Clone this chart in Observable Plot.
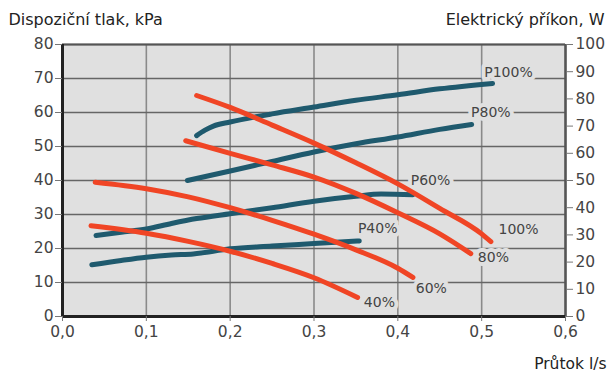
<!DOCTYPE html>
<html><head><meta charset="utf-8">
<script src="https://cdn.jsdelivr.net/npm/d3@7"></script>
<script src="https://cdn.jsdelivr.net/npm/@observablehq/plot@0.6"></script>
<style>body{margin:0;background:#fff;} #chart svg{display:block;}</style>
</head><body><div id="chart"></div>
<script>
// Axis ticks
const flowTicks = [0, 0.1, 0.2, 0.3, 0.4, 0.5, 0.6];
const pressureTicks = [0, 10, 20, 30, 40, 50, 60, 70, 80];
const powerTicks = [0, 10, 20, 30, 40, 50, 60, 70, 80, 90, 100];

// Pressure curves (flow l/s, kPa)
const pressure100 = [[0.16,65],[0.2,61.5],[0.25,56.3],[0.3,51],[0.35,45.2],[0.4,39],[0.45,31.8],[0.5,24.3],[0.511,22]];
const pressure80 = [[0.147,51.7],[0.2,48],[0.25,44.6],[0.3,41],[0.35,36.2],[0.4,30.5],[0.45,24.3],[0.487,18.5]];
const pressure60 = [[0.039,39.5],[0.1,37.6],[0.15,35.2],[0.2,32],[0.25,28.3],[0.3,24.2],[0.35,19.6],[0.4,14.2],[0.418,11.5]];
const pressure40 = [[0.034,26.7],[0.1,24.5],[0.15,22.1],[0.2,19.2],[0.25,15.6],[0.3,11.4],[0.352,5.6]];

// Power curves (flow l/s, W)
const power100 = [[0.16,66.5],[0.17,68.5],[0.18,70],[0.2,71.5],[0.25,74.5],[0.3,77],[0.35,79.5],[0.4,81.5],[0.45,83.7],[0.513,85.7]];
const power80 = [[0.149,50],[0.2,53.5],[0.25,57],[0.3,60.5],[0.35,63.5],[0.4,66],[0.45,68.8],[0.488,70.6]];
const power60 = [[0.04,29.8],[0.07,31],[0.1,32.2],[0.13,34.2],[0.16,36],[0.2,37.8],[0.25,40],[0.3,42.4],[0.35,44.2],[0.38,45],[0.418,44.8]];
const power40 = [[0.035,19],[0.07,20.6],[0.1,21.8],[0.13,22.6],[0.156,23],[0.2,24.9],[0.25,25.9],[0.3,26.8],[0.354,27.8]];

// Curve labels
const pressureLabels = ["100%", "80%", "60%", "40%"];
const pressureLabelPos = [[0.544,25.6],[0.514,17.4],[0.44,8.3],[0.378,4.1]];
const powerLabels = ["P100%", "P80%", "P60%", "P40%"];
const powerLabelPos = [[0.532,89.7],[0.511,75],[0.439,50],[0.376,32.3]];

const W2K = 80 / 100; // right axis (W) mapped onto left axis (kPa)

const pressureSets = [pressure100, pressure80, pressure60, pressure40];
const powerSets = [power100, power80, power60, power40];
const pressureRows = pressureSets.flatMap((s, i) => s.map(([x, y]) => ({series: pressureLabels[i], x, y})));
const powerRows = powerSets.flatMap((s, i) => s.map(([x, w]) => ({series: powerLabels[i], x, w})));
const pLabelRows = pressureLabels.map((t, i) => ({text: t, x: pressureLabelPos[i][0], y: pressureLabelPos[i][1]}));
const wLabelRows = powerLabels.map((t, i) => ({text: t, x: powerLabelPos[i][0], w: powerLabelPos[i][1]}));

const BG = "#e0e0e0";
const RED = "#f04525";
const BLUE = "#1f5a6e";
const font = "DejaVu Sans";

const chart = Plot.plot({
  width: 614,
  height: 372,
  marginLeft: 62,
  marginRight: 49,
  marginTop: 44,
  marginBottom: 56,
  style: {fontFamily: font, fontSize: "15.5px", color: "#444", background: "#fff"},
  x: {domain: [0, 0.6]},
  y: {domain: [0, 80]},
  marks: [
    Plot.frame({fill: BG, stroke: null}),
    Plot.ruleX(flowTicks, {stroke: "#8a8a8a", strokeWidth: 1.6}),
    Plot.ruleY(pressureTicks, {stroke: "#666", strokeWidth: 1.3}),
    Plot.text(pLabelRows, {x: "x", y: "y", text: "text", fill: "#444", stroke: BG, strokeWidth: 8, fontSize: 14}),
    Plot.text(wLabelRows, {x: "x", y: d => d.w * W2K, text: "text", fill: "#444", stroke: BG, strokeWidth: 8, fontSize: 14}),
    Plot.line(powerRows, {x: "x", y: d => d.w * W2K, z: "series", stroke: BLUE, strokeWidth: 5, curve: "monotone-x", strokeLinecap: "round"}),
    Plot.line(pressureRows, {x: "x", y: "y", z: "series", stroke: RED, strokeWidth: 5, curve: "monotone-x", strokeLinecap: "round"}),
    Plot.ruleY([80], {stroke: "#555", strokeWidth: 2}),
    Plot.ruleX([0.6], {stroke: "#555", strokeWidth: 2.5}),
    Plot.ruleY([0], {stroke: "#222", strokeWidth: 3}),
    Plot.ruleX([0], {stroke: "#222", strokeWidth: 3}),
    Plot.axisY(pressureTicks, {anchor: "left", label: null, tickSize: 7, tickPadding: 2, stroke: "#777", fill: "#444"}),
    Plot.axisY(powerTicks.map(w => w * W2K), {anchor: "right", label: null, tickSize: 7, tickPadding: 3, stroke: "#777", fill: "#444", tickFormat: d => String(Math.round(d / W2K))}),
    Plot.axisX(flowTicks, {anchor: "bottom", label: null, tickSize: 5, tickPadding: 4, stroke: "#777", fill: "#444", tickFormat: d => d.toFixed(1).replace(".", ",")}),
    Plot.text(["Dispoziční tlak, kPa"], {frameAnchor: "top-left", textAnchor: "start", lineAnchor: "middle", dx: -54, dy: -25, fontSize: 16, fill: "#222"}),
    Plot.text(["Elektrický příkon, W"], {frameAnchor: "top-right", textAnchor: "end", lineAnchor: "middle", dx: 39, dy: -25, fontSize: 16, fill: "#222"}),
    Plot.text(["Průtok l/s"], {frameAnchor: "bottom-right", textAnchor: "end", lineAnchor: "middle", dx: 41, dy: 48, fontSize: 15.5, fill: "#222"})
  ]
});
document.getElementById("chart").appendChild(chart);
</script>
</body></html>
